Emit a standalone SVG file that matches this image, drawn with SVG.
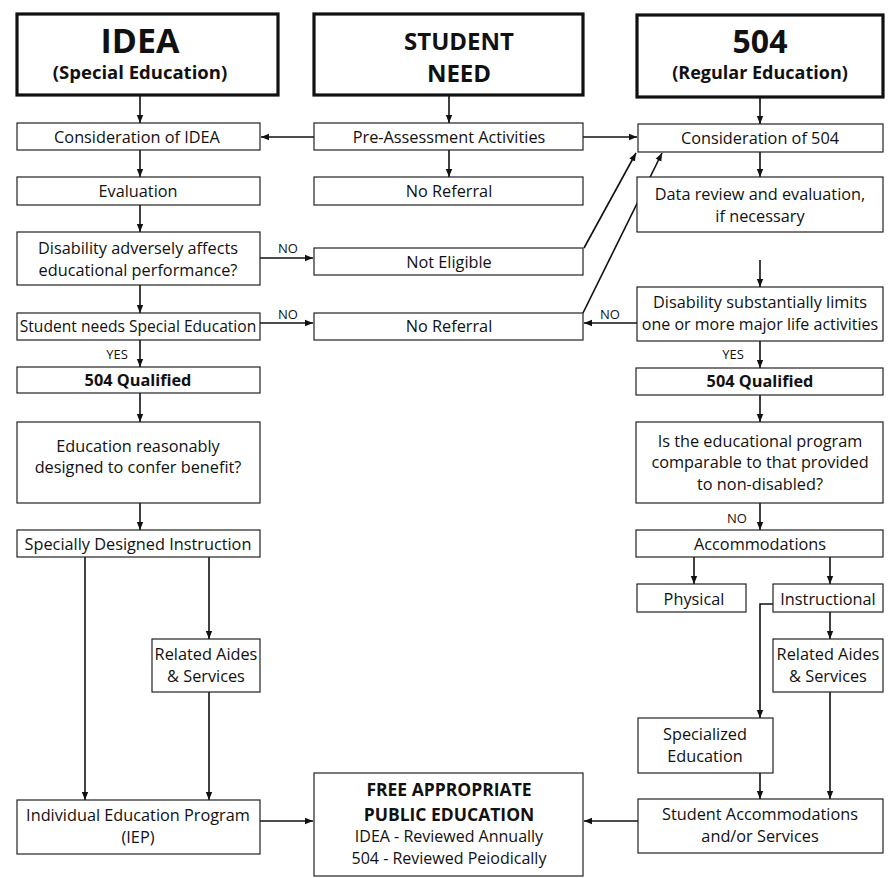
<svg xmlns="http://www.w3.org/2000/svg" width="888" height="878" viewBox="0 0 888 878">
<style>
.box{fill:#fff;stroke:#222;stroke-width:1.2}
.hdr{fill:#fff;stroke:#111;stroke-width:3.2}
.t{font-family:"Open Sans","Liberation Sans",sans-serif;font-size:16.3px;fill:#111;text-anchor:middle}
.b{font-weight:bold}
.lbl{font-family:"Open Sans","Liberation Sans",sans-serif;font-size:13px;fill:#111;text-anchor:middle}
.c{fill:none;stroke:#111;stroke-width:1.6}
.a{marker-end:url(#ah)}
</style>
<defs>
<marker id="ah" viewBox="0 0 10 10" refX="10" refY="5" markerWidth="8" markerHeight="8" orient="auto" markerUnits="userSpaceOnUse"><path d="M0,1 L10,5 L0,9 z" fill="#111"/></marker>
</defs>
<g id="connectors">
<path class="c a" d="M140,95 V123"/>
<path class="c a" d="M449,95 V123"/>
<path class="c a" d="M760,97 V124"/>
<path class="c a" d="M314,137 H261"/>
<path class="c a" d="M583,137 H637"/>
<path class="c a" d="M140,150 V177"/>
<path class="c a" d="M449,150 V177"/>
<path class="c a" d="M760,152 V177"/>
<path class="c a" d="M140,205 V232"/>
<path class="c a" d="M260,258 H313"/>
<path class="c a" d="M584,248 L636,153"/>
<path class="c a" d="M583,313 L662,153"/>
<path class="c a" d="M760,260 V287"/>
<path class="c a" d="M140,285 V313"/>
<path class="c a" d="M260,323 H313"/>
<path class="c a" d="M637,323 H584"/>
<path class="c a" d="M140,340 V367"/>
<path class="c a" d="M760,341 V368"/>
<path class="c a" d="M140,393 V422"/>
<path class="c a" d="M760,395 V422"/>
<path class="c a" d="M140,503 V530"/>
<path class="c a" d="M760,503 V530"/>
<path class="c a" d="M694,557 V584"/>
<path class="c a" d="M830,557 V584"/>
<path class="c a" d="M773,604 H760 V718"/>
<path class="c a" d="M830,612 V639"/>
<path class="c a" d="M85,557 V800"/>
<path class="c a" d="M209,557 V639"/>
<path class="c a" d="M209,692 V800"/>
<path class="c a" d="M760,773 V799"/>
<path class="c a" d="M830,692 V799"/>
<path class="c a" d="M260,821 H313"/>
<path class="c a" d="M638,821 H584"/>
<text class="lbl" x="288" y="253">NO</text>
<text class="lbl" x="288" y="319">NO</text>
<text class="lbl" x="610" y="319">NO</text>
<text class="lbl" x="117" y="359">YES</text>
<text class="lbl" x="733" y="359">YES</text>
<text class="lbl" x="737" y="523">NO</text>
</g>
<g id="hdr-idea"><rect class="hdr" x="17" y="14" width="261" height="81"/>
<text class="t b" x="140" y="53" style="font-size:34px">IDEA</text>
<text class="t b" x="140" y="79" style="font-size:18.5px">(Special Education)</text></g>
<g id="hdr-student"><rect class="hdr" x="314" y="14" width="269" height="81"/>
<text class="t b" x="459" y="50" style="font-size:24px">STUDENT</text>
<text class="t b" x="459" y="82" style="font-size:24px">NEED</text></g>
<g id="hdr-504"><rect class="hdr" x="637" y="15" width="246" height="82"/>
<text class="t b" x="760" y="53" style="font-size:32px">504</text>
<text class="t b" x="760" y="79" style="font-size:18px">(Regular Education)</text></g>
<g id="cons-idea"><rect class="box" x="17" y="123" width="243" height="27"/><text class="t" x="137" y="143">Consideration of IDEA</text></g>
<g id="pre-assess"><rect class="box" x="314" y="123" width="269" height="27"/><text class="t" x="449" y="143">Pre-Assessment Activities</text></g>
<g id="cons-504"><rect class="box" x="638" y="124" width="245" height="28"/><text class="t" x="760" y="144">Consideration of 504</text></g>
<g id="evaluation"><rect class="box" x="17" y="177" width="243" height="28"/><text class="t" x="138" y="197">Evaluation</text></g>
<g id="no-referral-1"><rect class="box" x="314" y="177" width="269" height="28"/><text class="t" x="449" y="197">No Referral</text></g>
<g id="data-review"><rect class="box" x="637" y="177" width="246" height="55"/><text class="t" x="760" y="200">Data review and evaluation,</text><text class="t" x="760" y="222">if necessary</text></g>
<g id="adversely"><rect class="box" x="17" y="232" width="243" height="53"/><text class="t" x="138" y="254">Disability adversely affects</text><text class="t" x="138" y="276">educational performance?</text></g>
<g id="not-eligible"><rect class="box" x="314" y="248" width="269" height="27"/><text class="t" x="449" y="268">Not Eligible</text></g>
<g id="needs-sped"><rect class="box" x="17" y="313" width="243" height="27"/><text class="t" x="138" y="332" style="font-size:15.6px">Student needs Special Education</text></g>
<g id="no-referral-2"><rect class="box" x="314" y="313" width="269" height="27"/><text class="t" x="449" y="332">No Referral</text></g>
<g id="substantially"><rect class="box" x="637" y="287" width="246" height="54"/><text class="t" x="760" y="308">Disability substantially limits</text><text class="t" x="760" y="330" style="font-size:16px">one or more major life activities</text></g>
<g id="qual-left"><rect class="box" x="17" y="367" width="243" height="26"/><text class="t b" x="138" y="386">504 Qualified</text></g>
<g id="qual-right"><rect class="box" x="636" y="368" width="247" height="27"/><text class="t b" x="760" y="387">504 Qualified</text></g>
<g id="reasonably"><rect class="box" x="17" y="422" width="243" height="81"/><text class="t" x="138" y="452">Education reasonably</text><text class="t" x="138" y="473">designed to confer benefit?</text></g>
<g id="comparable"><rect class="box" x="636" y="422" width="247" height="81"/><text class="t" x="760" y="447">Is the educational program</text><text class="t" x="760" y="468">comparable to that provided</text><text class="t" x="760" y="490">to non-disabled?</text></g>
<g id="sdi"><rect class="box" x="17" y="530" width="243" height="27"/><text class="t" x="138" y="550">Specially Designed Instruction</text></g>
<g id="accommodations"><rect class="box" x="636" y="530" width="247" height="27"/><text class="t" x="760" y="550">Accommodations</text></g>
<g id="physical"><rect class="box" x="637" y="584" width="109" height="28"/><text class="t" x="694" y="605">Physical</text></g>
<g id="instructional"><rect class="box" x="773" y="584" width="110" height="28"/><text class="t" x="828" y="605">Instructional</text></g>
<g id="related-right"><rect class="box" x="773" y="639" width="110" height="53"/><text class="t" x="828" y="660">Related Aides</text><text class="t" x="828" y="682">&amp; Services</text></g>
<g id="related-left"><rect class="box" x="152" y="639" width="108" height="53"/><text class="t" x="206" y="660">Related Aides</text><text class="t" x="206" y="682">&amp; Services</text></g>
<g id="specialized"><rect class="box" x="638" y="718" width="135" height="55"/><text class="t" x="705" y="740">Specialized</text><text class="t" x="705" y="762">Education</text></g>
<g id="iep"><rect class="box" x="17" y="800" width="243" height="54"/><text class="t" x="138" y="821">Individual Education Program</text><text class="t" x="138" y="843">(IEP)</text></g>
<g id="student-accom"><rect class="box" x="638" y="799" width="245" height="54"/><text class="t" x="760" y="820">Student Accommodations</text><text class="t" x="760" y="842">and/or Services</text></g>
<g id="fape"><rect class="box" x="314" y="773" width="269" height="103"/><text class="t b" x="449" y="796" style="font-size:17.5px">FREE APPROPRIATE</text><text class="t b" x="449" y="821" style="font-size:17.5px">PUBLIC EDUCATION</text><text class="t" x="449" y="842" style="font-size:16px">IDEA - Reviewed Annually</text><text class="t" x="449" y="864" style="font-size:16px">504 - Reviewed Peiodically</text></g>
</svg>
